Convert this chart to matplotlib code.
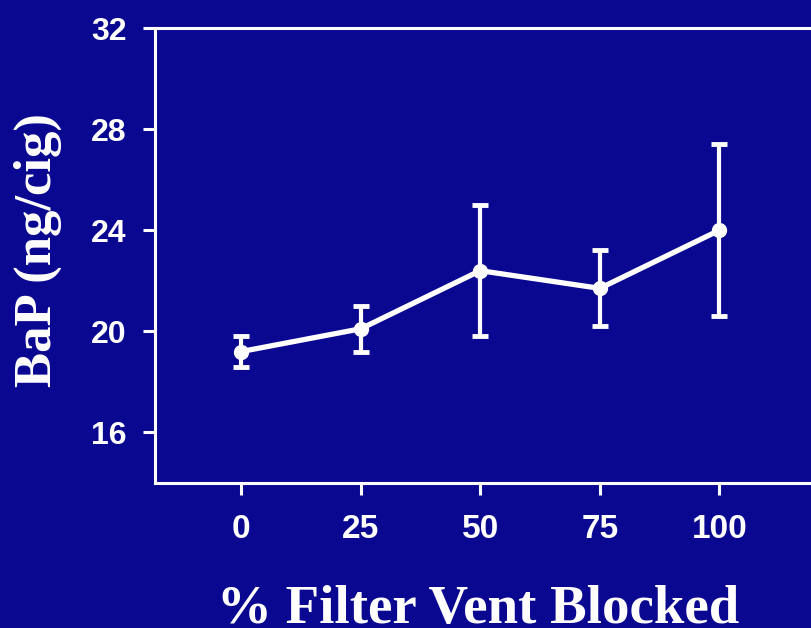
import numpy as np
import matplotlib.pyplot as plt

# BaP yield vs filter vent blocking
vent_blocked = [0, 25, 50, 75, 100]
bap = [19.2, 20.1, 22.4, 21.7, 24.0]
bap_err = [0.6, 0.9, 2.6, 1.5, 3.4]
x_ticks = [0, 25, 50, 75, 100]
y_ticks = [16, 20, 24, 28, 32]

bg = "#0A0890"
fg = "white"

fig = plt.figure(figsize=(8.11, 6.28), dpi=100, facecolor=bg)
ax = fig.add_axes([155 / 811, 145 / 628, 656 / 811, 455 / 628])
ax.set_facecolor(bg)

ax.errorbar(vent_blocked, bap, yerr=bap_err, color=fg, linewidth=3.8,
            elinewidth=3, capsize=6, capthick=3.5, marker="o", markersize=10,
            solid_capstyle="round", clip_on=False)

ax.set_xlim(-18, 119.15)
ax.set_ylim(14, 32)
ax.set_xticks(x_ticks)
ax.set_yticks(y_ticks)

for side in ["left", "bottom", "top"]:
    ax.spines[side].set_color(fg)
    ax.spines[side].set_linewidth(2.2)
ax.spines["right"].set_visible(False)

ax.tick_params(axis="both", colors=fg, width=2.2, length=8.5, direction="out")
ax.tick_params(axis="x", pad=14)
ax.tick_params(axis="y", pad=12)
for lbl in ax.get_xticklabels():
    lbl.set_fontfamily("Liberation Sans")
    lbl.set_fontweight("bold")
    lbl.set_fontsize(24)
for lbl in ax.get_yticklabels():
    lbl.set_fontfamily("Liberation Sans")
    lbl.set_fontweight("bold")
    lbl.set_fontsize(23)

fig.text(38 / 811, 1 - 250 / 628, "BaP (ng/cig)", rotation=90, ha="center",
         va="center", color=fg, fontsize=38, fontweight="bold",
         fontfamily="Liberation Serif")
fig.text(478 / 811, 5 / 628, "% Filter Vent Blocked", ha="center",
         va="baseline", color=fg, fontsize=39.5, fontweight="bold",
         fontfamily="Liberation Serif")

fig.savefig("out.png", dpi=100, facecolor=bg)
